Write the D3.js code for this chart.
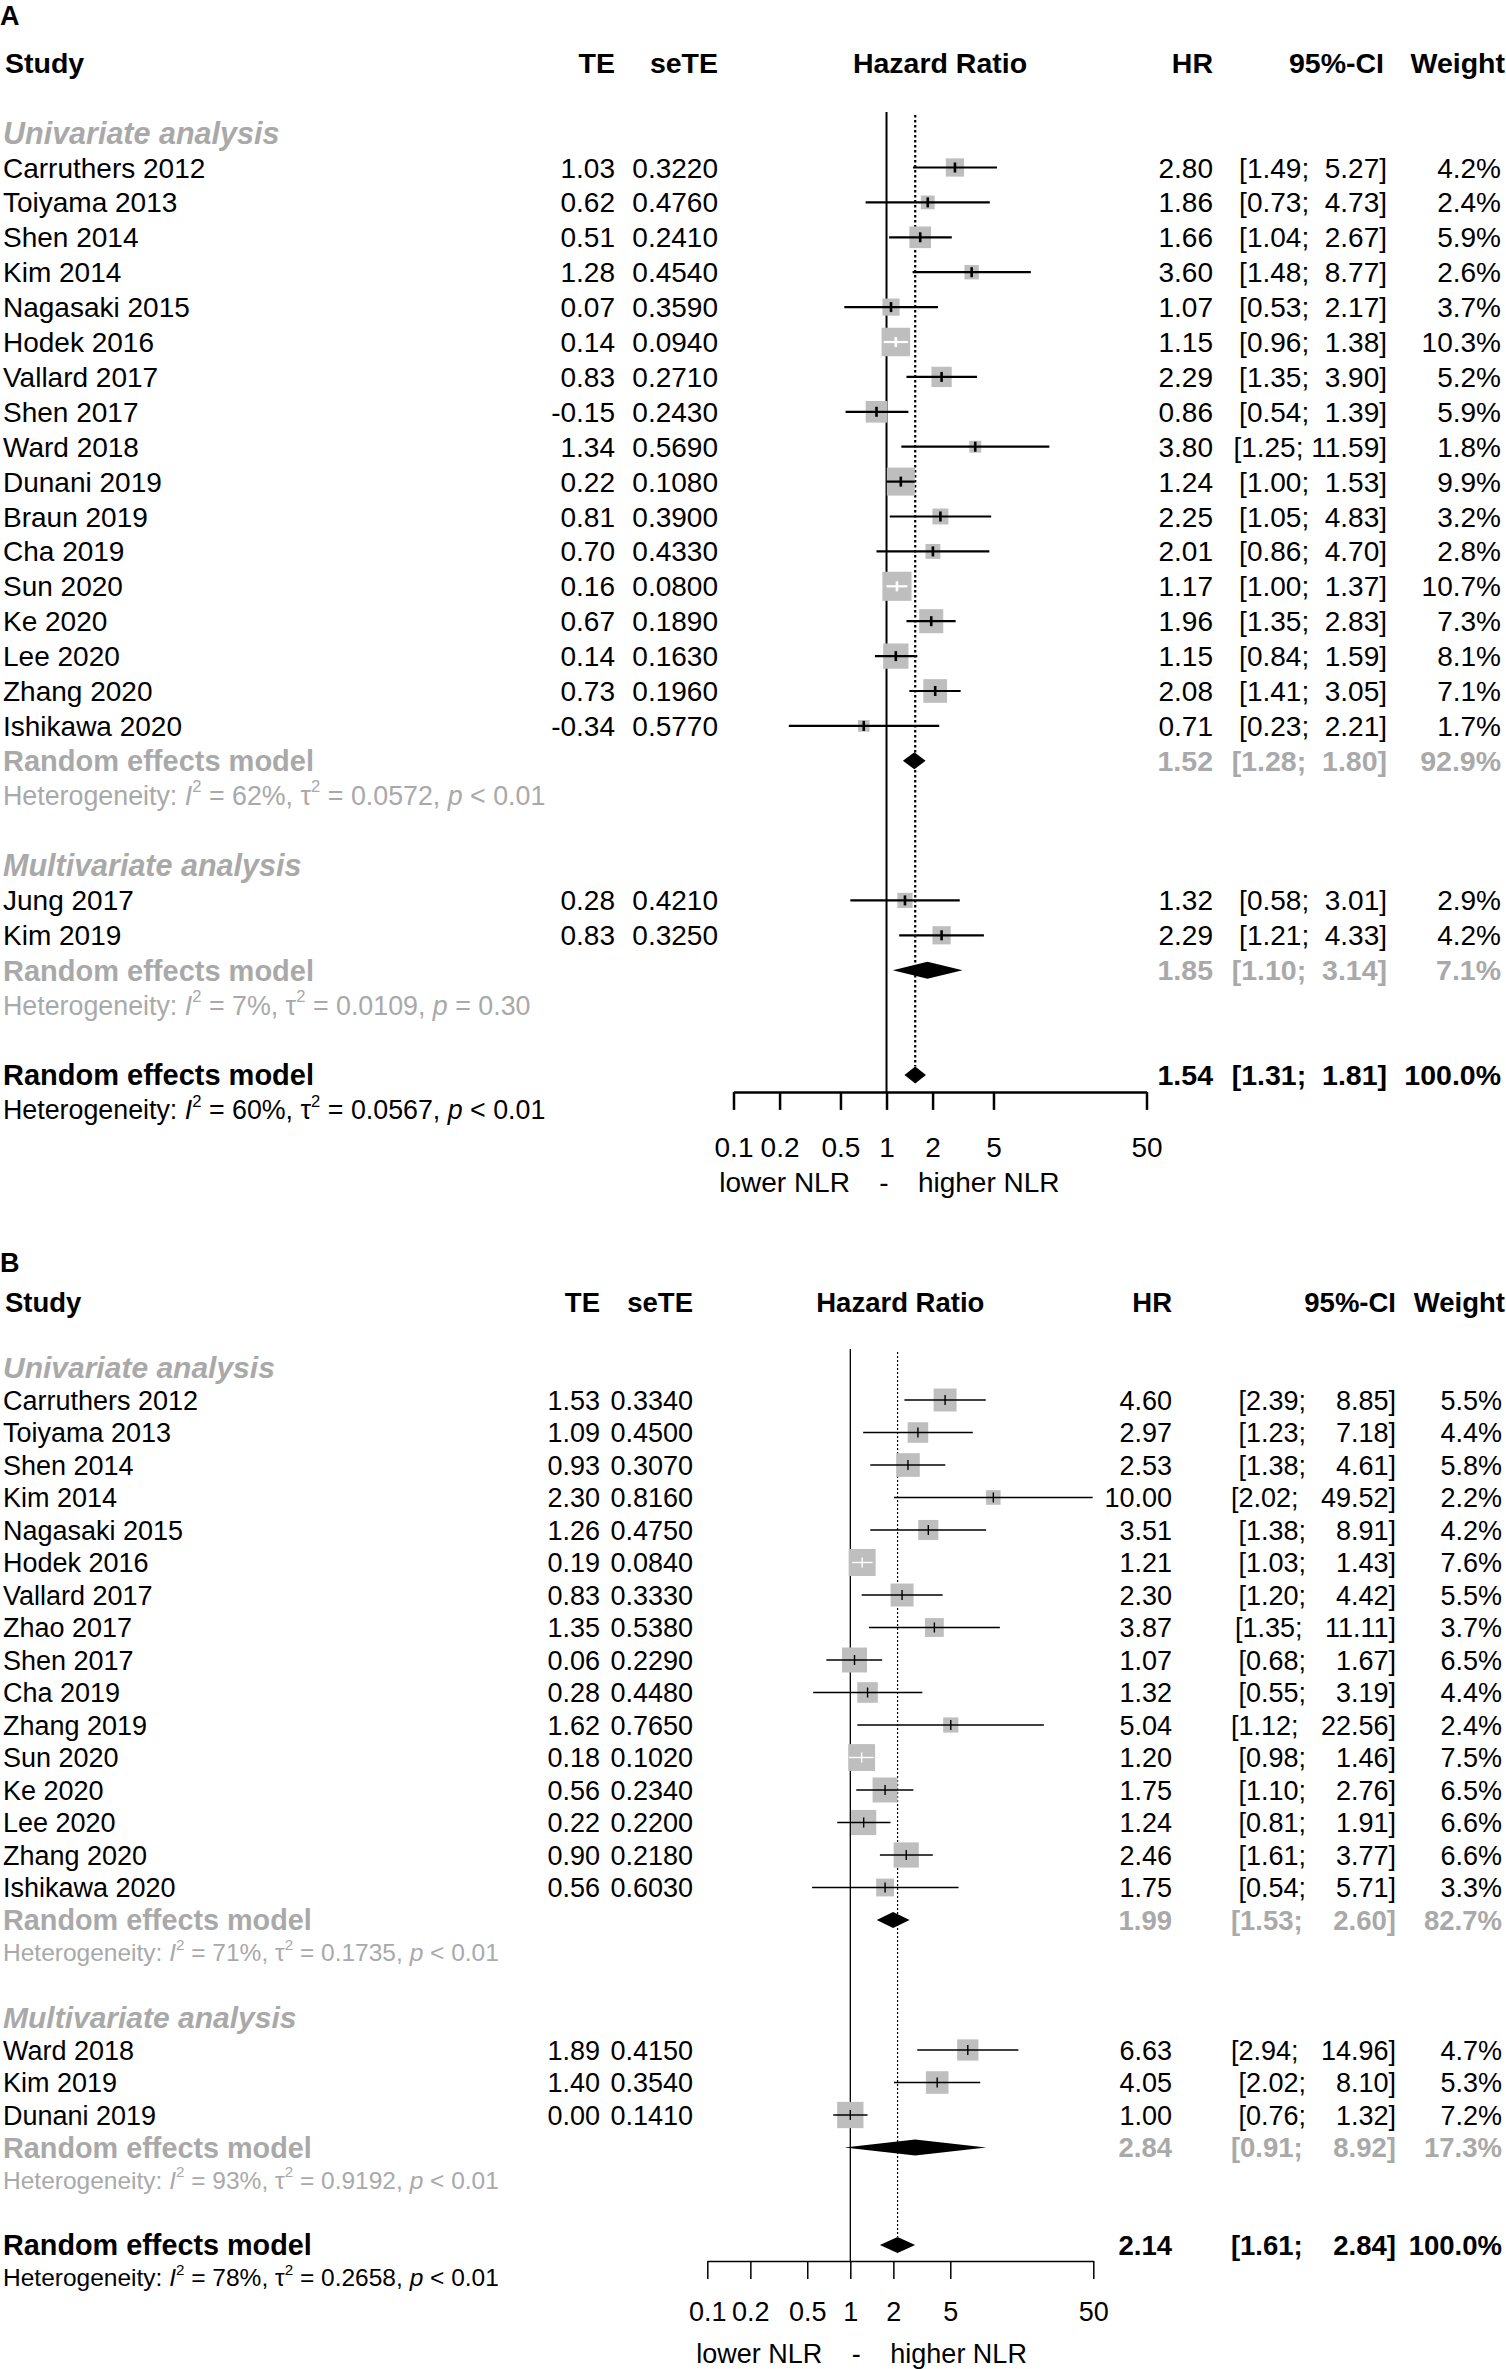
<!DOCTYPE html>
<html>
<head>
<meta charset="utf-8">
<script src="https://cdn.jsdelivr.net/npm/d3@7"></script>
<style>
  body { margin: 0; background: #fff; }
  svg text { font-family: "Liberation Sans", Arial, sans-serif; white-space: pre; }
</style>
</head>
<body>
<div id="chart"></div>
<script>
// study rows: [name, TE, seTE, HR, lower, upper, weight %]
const uniA = [
  ["Carruthers 2012", 1.03, 0.3220, 2.80, 1.49, 5.27, 4.2],
  ["Toiyama 2013", 0.62, 0.4760, 1.86, 0.73, 4.73, 2.4],
  ["Shen 2014", 0.51, 0.2410, 1.66, 1.04, 2.67, 5.9],
  ["Kim 2014", 1.28, 0.4540, 3.60, 1.48, 8.77, 2.6],
  ["Nagasaki 2015", 0.07, 0.3590, 1.07, 0.53, 2.17, 3.7],
  ["Hodek 2016", 0.14, 0.0940, 1.15, 0.96, 1.38, 10.3],
  ["Vallard 2017", 0.83, 0.2710, 2.29, 1.35, 3.90, 5.2],
  ["Shen 2017", -0.15, 0.2430, 0.86, 0.54, 1.39, 5.9],
  ["Ward 2018", 1.34, 0.5690, 3.80, 1.25, 11.59, 1.8],
  ["Dunani 2019", 0.22, 0.1080, 1.24, 1.00, 1.53, 9.9],
  ["Braun 2019", 0.81, 0.3900, 2.25, 1.05, 4.83, 3.2],
  ["Cha 2019", 0.70, 0.4330, 2.01, 0.86, 4.70, 2.8],
  ["Sun 2020", 0.16, 0.0800, 1.17, 1.00, 1.37, 10.7],
  ["Ke 2020", 0.67, 0.1890, 1.96, 1.35, 2.83, 7.3],
  ["Lee 2020", 0.14, 0.1630, 1.15, 0.84, 1.59, 8.1],
  ["Zhang 2020", 0.73, 0.1960, 2.08, 1.41, 3.05, 7.1],
  ["Ishikawa 2020", -0.34, 0.5770, 0.71, 0.23, 2.21, 1.7]
];
const multiA = [
  ["Jung 2017", 0.28, 0.4210, 1.32, 0.58, 3.01, 2.9],
  ["Kim 2019", 0.83, 0.3250, 2.29, 1.21, 4.33, 4.2]
];
// random effects: [HR, lower, upper, weight] -> univariate, multivariate, overall
const reA = [[1.52, 1.28, 1.80, 92.9], [1.85, 1.10, 3.14, 7.1], [1.54, 1.31, 1.81, 100.0]];
// heterogeneity: [I2 %, tau2, p]
const hetA = [[62, "0.0572", "< 0.01"], [7, "0.0109", "= 0.30"], [60, "0.0567", "< 0.01"]];

const uniB = [
  ["Carruthers 2012", 1.53, 0.3340, 4.60, 2.39, 8.85, 5.5],
  ["Toiyama 2013", 1.09, 0.4500, 2.97, 1.23, 7.18, 4.4],
  ["Shen 2014", 0.93, 0.3070, 2.53, 1.38, 4.61, 5.8],
  ["Kim 2014", 2.30, 0.8160, 10.00, 2.02, 49.52, 2.2],
  ["Nagasaki 2015", 1.26, 0.4750, 3.51, 1.38, 8.91, 4.2],
  ["Hodek 2016", 0.19, 0.0840, 1.21, 1.03, 1.43, 7.6],
  ["Vallard 2017", 0.83, 0.3330, 2.30, 1.20, 4.42, 5.5],
  ["Zhao 2017", 1.35, 0.5380, 3.87, 1.35, 11.11, 3.7],
  ["Shen 2017", 0.06, 0.2290, 1.07, 0.68, 1.67, 6.5],
  ["Cha 2019", 0.28, 0.4480, 1.32, 0.55, 3.19, 4.4],
  ["Zhang 2019", 1.62, 0.7650, 5.04, 1.12, 22.56, 2.4],
  ["Sun 2020", 0.18, 0.1020, 1.20, 0.98, 1.46, 7.5],
  ["Ke 2020", 0.56, 0.2340, 1.75, 1.10, 2.76, 6.5],
  ["Lee 2020", 0.22, 0.2200, 1.24, 0.81, 1.91, 6.6],
  ["Zhang 2020", 0.90, 0.2180, 2.46, 1.61, 3.77, 6.6],
  ["Ishikawa 2020", 0.56, 0.6030, 1.75, 0.54, 5.71, 3.3]
];
const multiB = [
  ["Ward 2018", 1.89, 0.4150, 6.63, 2.94, 14.96, 4.7],
  ["Kim 2019", 1.40, 0.3540, 4.05, 2.02, 8.10, 5.3],
  ["Dunani 2019", 0.00, 0.1410, 1.00, 0.76, 1.32, 7.2]
];
const reB = [[1.99, 1.53, 2.60, 82.7], [2.84, 0.91, 8.92, 17.3], [2.14, 1.61, 2.84, 100.0]];
const hetB = [[71, "0.1735", "< 0.01"], [93, "0.9192", "< 0.01"], [78, "0.2658", "< 0.01"]];

const groupLabels = ["Univariate analysis", "Multivariate analysis"];
const axisTicks = [0.1, 0.2, 0.5, 1, 2, 5, 50];

const GRAY = "#a9a9a9", BOX = "#bebebe";

const svg = d3.select("#chart").append("svg")
    .attr("width", 1506).attr("height", 2369)
    .attr("viewBox", "0 0 1506 2369");
svg.append("rect").attr("width", 1506).attr("height", 2369).attr("fill", "#fff");

function ciText(lo, hi, sep) {
  return "[" + lo.toFixed(2) + ";" + " ".repeat(sep) + hi.toFixed(2).padStart(5, " ") + "]";
}

function drawPanel(cfg, letter, groups, overall, overallHet) {
  const g = svg.append("g");
  const x = d3.scaleLog().domain([0.1, 50]).range(cfg.xRange);
  const y = d3.scaleLinear().domain([0, 1]).range([cfg.y0, cfg.y0 + cfg.pitch]);
  const side = d3.scaleSqrt().domain([0, 1]).range([0, cfg.boxK]);
  const base = (k, fs) => y(k) + 0.36 * fs;

  function txt(xx, k, s, o) {
    o = o || {};
    const fs = o.size || cfg.fs;
    return g.append("text")
        .attr("x", xx).attr("y", base(k, fs))
        .attr("font-size", fs)
        .attr("text-anchor", o.anchor || "start")
        .attr("font-weight", o.bold ? "bold" : null)
        .attr("font-style", o.italic ? "italic" : null)
        .attr("fill", o.fill || "#000")
        .text(s);
  }
  function het(k, h, fill) {
    const fs = cfg.fsHet, sup = fs * 0.62, up = -fs * 0.48;
    const t = g.append("text").attr("x", 3).attr("y", base(k, fs))
        .attr("font-size", fs).attr("fill", fill);
    t.append("tspan").text("Heterogeneity: ");
    t.append("tspan").attr("font-style", "italic").text("I");
    t.append("tspan").attr("font-size", sup).attr("dy", up).text("2");
    t.append("tspan").attr("dy", -up).text(" = " + h[0] + "%, ");
    t.append("tspan").text("\u03c4");
    t.append("tspan").attr("font-size", sup).attr("dy", up).text("2");
    t.append("tspan").attr("dy", -up).text(" = " + h[1] + ", ");
    t.append("tspan").attr("font-style", "italic").text("p");
    t.append("tspan").text(" " + h[2]);
  }
  function summaryRow(k, label, d, fill) {
    txt(3, k, label, {bold: true, fill: fill, size: cfg.fsRE});
    txt(cfg.colHR, k, d[0].toFixed(2), {anchor: "end", bold: true, fill: fill, size: cfg.fsB});
    txt(cfg.colCI, k, ciText(d[1], d[2], cfg.ciSep), {anchor: "end", bold: true, fill: fill, size: cfg.fsB});
    txt(cfg.colW, k, d[3].toFixed(1) + "%", {anchor: "end", bold: true, fill: fill, size: cfg.fsB});
  }

  // panel letter and headers
  g.append("text").attr("x", 0).attr("y", cfg.letterY + 10)
      .attr("font-size", 27).attr("font-weight", "bold").text(letter);
  const hk = -3;
  txt(5, hk, "Study", {bold: true, size: cfg.fsB});
  txt(cfg.colTE, hk, "TE", {anchor: "end", bold: true, size: cfg.fsB});
  txt(cfg.colSE, hk, "seTE", {anchor: "end", bold: true, size: cfg.fsB});
  txt((cfg.xRange[0] + cfg.xRange[1]) / 2, hk, "Hazard Ratio", {anchor: "middle", bold: true, size: cfg.fsB});
  txt(cfg.colHR, hk, "HR", {anchor: "end", bold: true, size: cfg.fsB});
  txt(cfg.colCIhead, hk, "95%-CI", {anchor: "end", bold: true, size: cfg.fsB});
  txt(cfg.colWhead, hk, "Weight", {anchor: "end", bold: true, size: cfg.fsB});

  // row layout
  let k = -1;
  const studies = [], subs = [];
  groups.forEach(gr => {
    txt(3, k, gr.label, {bold: true, italic: true, fill: GRAY, size: cfg.fsGroup});
    gr.studies.forEach((s, i) => studies.push({k: k + 1 + i, d: s}));
    k += gr.studies.length + 1;
    subs.push({k: k, d: gr.re});
    summaryRow(k, "Random effects model", gr.re, GRAY);
    het(k + 1, gr.het, GRAY);
    k += 3;
  });
  const kAll = k;
  summaryRow(kAll, "Random effects model", overall, "#000");
  het(kAll + 1, overallHet, "#000");

  studies.forEach(r => {
    const d = r.d;
    txt(3, r.k, d[0]);
    txt(cfg.colTE, r.k, d[1].toFixed(2), {anchor: "end"});
    txt(cfg.colSE, r.k, d[2].toFixed(4), {anchor: "end"});
    txt(cfg.colHR, r.k, d[3].toFixed(2), {anchor: "end"});
    txt(cfg.colCI, r.k, ciText(d[4], d[5], cfg.ciSep), {anchor: "end"});
    txt(cfg.colW, r.k, d[6].toFixed(1) + "%", {anchor: "end"});
  });

  // reference lines
  const axisY = y(kAll) + cfg.axisGap;
  const dh = cfg.diamondH / 2;
  g.append("line").attr("x1", x(1)).attr("x2", x(1))
      .attr("y1", cfg.refTop).attr("y2", axisY)
      .attr("stroke", "#000").attr("stroke-width", cfg.refW);
  g.append("line").attr("x1", x(overall[0])).attr("x2", x(overall[0]))
      .attr("y1", cfg.refTop + 3).attr("y2", y(kAll) - dh)
      .attr("stroke", "#000").attr("stroke-width", cfg.dotW)
      .attr("stroke-dasharray", cfg.dash);

  // study squares, CI lines, estimate ticks
  const marks = g.append("g");
  studies.forEach(r => {
    const d = r.d, s = side(d[6]), cx = x(d[3]), cy = y(r.k);
    const inside = x(d[4]) >= cx - s / 2 && x(d[5]) <= cx + s / 2;
    const col = inside ? "#fff" : "#000";
    marks.append("rect").attr("x", cx - s / 2).attr("y", cy - s / 2)
        .attr("width", s).attr("height", s).attr("fill", BOX);
    marks.append("line").attr("x1", x(d[4])).attr("x2", x(d[5]))
        .attr("y1", cy).attr("y2", cy)
        .attr("stroke", col).attr("stroke-width", cfg.lw);
    marks.append("line").attr("x1", cx).attr("x2", cx)
        .attr("y1", cy - 5).attr("y2", cy + 5)
        .attr("stroke", col).attr("stroke-width", cfg.tickW);
  });

  // diamonds
  const diamond = (d, k) => {
    const cy = y(k);
    return [[x(d[1]), cy], [x(d[0]), cy - dh], [x(d[2]), cy], [x(d[0]), cy + dh]];
  };
  subs.concat([{k: kAll, d: overall}]).forEach(r => {
    marks.append("polygon").attr("points", diamond(r.d, r.k).join(" ")).attr("fill", "#000");
  });

  // axis
  const ax = g.append("g").attr("transform", `translate(0,${axisY})`)
      .call(d3.axisBottom(x).tickValues(axisTicks).tickSizeInner(18).tickSizeOuter(0)
          .tickPadding(cfg.tickPad).tickFormat(d => String(d)));
  ax.attr("font-size", cfg.fs).attr("font-family", null);
  ax.selectAll("path.domain").attr("stroke-width", cfg.axisW);
  ax.selectAll(".tick line").attr("stroke-width", cfg.axisW);
  ax.selectAll(".tick text").attr("fill", "#000");

  // direction labels under the axis
  const dashX = x(1) + cfg.dashOff, lk = y.invert(axisY + cfg.labelDy);
  txt(dashX, lk, "-", {anchor: "middle"});
  txt(dashX - 34, lk, "lower NLR", {anchor: "end"});
  txt(dashX + 34, lk, "higher NLR");
}

const cfgA = {
  letterY: 15, y0: 167.5, pitch: 34.9, xRange: [733.5, 1146.5],
  fs: 28, fsB: 28.5, fsGroup: 30.5, fsRE: 29, fsHet: 26.8,
  colTE: 615, colSE: 718, colHR: 1213, colCI: 1387, colCIhead: 1384, colW: 1501, colWhead: 1505,
  ciSep: 1, boxK: 8.9, lw: 2.2, tickW: 2.6, refW: 2, dotW: 2.2, dash: "2.5,2.5", axisW: 2.5,
  refTop: 112, axisGap: 17, tickPad: 27, dashOff: -2.6, labelDy: 90, diamondH: 17
};
const cfgB = {
  letterY: 1262, y0: 1400, pitch: 32.5, xRange: [707.3, 1093.3],
  fs: 27, fsB: 27.5, fsGroup: 30, fsRE: 28.8, fsHet: 24.5,
  colTE: 600, colSE: 693, colHR: 1172, colCI: 1396, colCIhead: 1396, colW: 1502, colWhead: 1505,
  ciSep: 3, boxK: 9.8, lw: 1.4, tickW: 1.4, refW: 1.3, dotW: 1.2, dash: "2,2", axisW: 1.5,
  refTop: 1349, axisGap: 16, tickPad: 23, dashOff: 6, labelDy: 92, diamondH: 16
};

drawPanel(cfgA, "A",
  [{label: groupLabels[0], studies: uniA, re: reA[0], het: hetA[0]},
   {label: groupLabels[1], studies: multiA, re: reA[1], het: hetA[1]}],
  reA[2], hetA[2]);
drawPanel(cfgB, "B",
  [{label: groupLabels[0], studies: uniB, re: reB[0], het: hetB[0]},
   {label: groupLabels[1], studies: multiB, re: reB[1], het: hetB[1]}],
  reB[2], hetB[2]);
</script>
</body>
</html>
